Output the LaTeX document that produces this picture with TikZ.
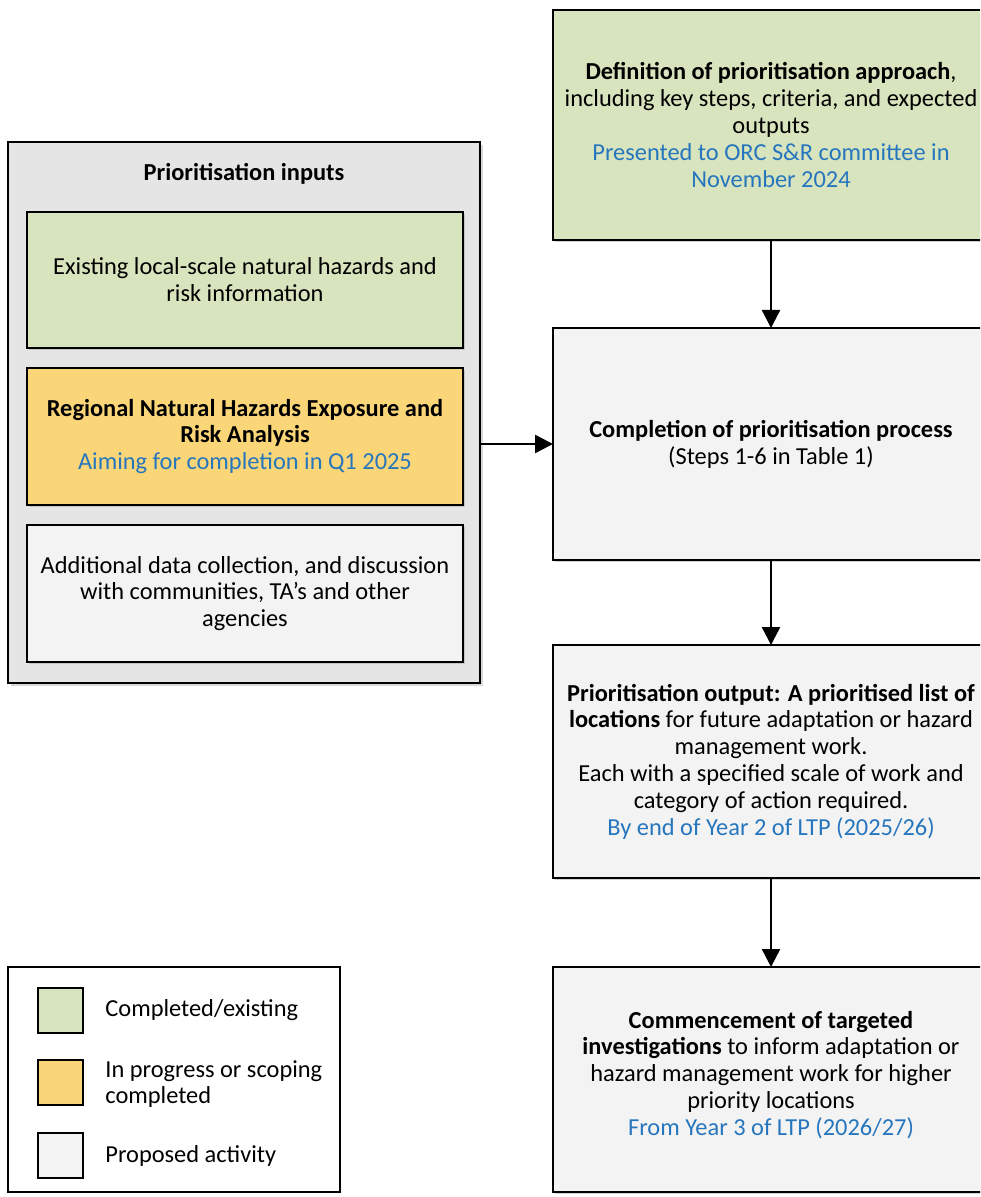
\documentclass[tikz,border=0pt]{standalone}
\usepackage{fontspec}
\setmainfont{Carlito}
\usepackage{tikz}
\usetikzlibrary{arrows.meta}
\usetikzlibrary{shadows}
\definecolor{donegreen}{RGB}{216,228,189}
\definecolor{progyellow}{RGB}{250,214,120}
\definecolor{proposedgrey}{RGB}{243,243,243}
\definecolor{inputsgrey}{RGB}{229,229,229}
\definecolor{dateblue}{RGB}{38,118,190}
\newcommand{\datetext}[1]{{\color{dateblue}#1}}
\newcommand{\boxfont}{\fontsize{12.2}{13.4}\selectfont}
\tikzstyle{stage}=[draw, line width=1pt, align=center, inner sep=0, outer sep=0,
                   minimum width=218pt, font=\boxfont,
                   drop shadow={shadow xshift=1.2pt, shadow yshift=-1.2pt, fill=black!35, opacity=0.5}]
\tikzstyle{done}=[stage, fill=donegreen]
\tikzstyle{progress}=[stage, fill=progyellow]
\tikzstyle{proposed}=[stage, fill=proposedgrey]
\tikzstyle{swatch}=[draw, line width=1pt, minimum size=22.5pt, inner sep=0]
\tikzstyle{keytext}=[anchor=west, align=left, inner sep=0, font=\boxfont]
\tikzstyle{flow}=[line width=1.2pt, -{Triangle[length=9pt, width=9pt]}]

\begin{document}
\begin{tikzpicture}[x=0.5pt, y=-0.5pt]
    \useasboundingbox (0, 0) rectangle (980, 1197);
    \clip (0, 0) rectangle (980, 1197);
    \fill[white] (0, 0) rectangle (980, 1197);

    % inputs panel
    \node[draw, line width=1.2pt, fill=inputsgrey, minimum width=236pt, minimum height=270.5pt,
          drop shadow={shadow xshift=1.5pt, shadow yshift=-1.5pt, fill=black!30, opacity=0.5}]
                                                (inputs) at (244, 412.5) {};
    \node[font=\boxfont\bfseries]               (inputstitle) at (244, 174) {Prioritisation inputs};
    \node[done, minimum height=68pt]            (existing) at (245, 280)
        {Existing local-scale natural hazards and\\ risk information};
    \node[progress, minimum height=68.5pt]      (regional) at (245, 436.5)
        {\textbf{Regional Natural Hazards Exposure and}\\ \textbf{Risk Analysis}\\
         \datetext{Aiming for completion in Q1 2025}};
    \node[proposed, minimum height=68.5pt]      (additional) at (245, 593.5)
        {Additional data collection, and discussion\\ with communities, TA's and other\\ agencies};

    % main sequence
    \node[done, minimum height=115pt]           (defn) at (771, 125)
        {\textbf{Definition of prioritisation approach},\\ including key steps, criteria, and expected\\ outputs\\
         \datetext{Presented to ORC S\&R committee in}\\ \datetext{November 2024}};
    \node[proposed, minimum height=116pt]       (process) at (771, 444)
        {\textbf{Completion of prioritisation process}\\ (Steps 1-6 in Table 1)};
    \node[proposed, minimum height=116.5pt]     (output) at (771, 761.5)
        {\textbf{Prioritisation output: A prioritised list of}\\ \textbf{locations} for future adaptation or hazard\\
         management work.\\ Each with a specified scale of work and\\ category of action required.\\
         \datetext{By end of Year 2 of LTP (2025/26)}};
    \node[proposed, minimum height=112.5pt]     (investig) at (771, 1079.5)
        {\textbf{Commencement of targeted}\\ \textbf{investigations} to inform adaptation or\\
         hazard management work for higher\\ priority locations\\
         \datetext{From Year 3 of LTP (2026/27)}\\[-7pt]};

    \draw[flow] (defn) -- (process);
    \draw[flow] (process) -- (output);
    \draw[flow] (output) -- (investig);
    \draw[flow] (inputs.east |- process.west) -- (process.west);

    % key
    \node[draw, line width=1pt, fill=white, minimum width=166pt, minimum height=112.5pt] (legend) at (174, 1079.5) {};
    \node[swatch, fill=donegreen]               (keydone) at (60.5, 1010) {};
    \node[swatch, fill=progyellow]              (keyprog) at (60.5, 1082.5) {};
    \node[swatch, fill=proposedgrey]            (keyprop) at (60.5, 1155.5) {};
    \node[keytext] (keydonetext) at (105, 1010) {Completed/existing};
    \node[keytext] (keyprogtext) at (105, 1084) {In progress or scoping\\ completed};
    \node[keytext] (keyproptext) at (105, 1155.5) {Proposed activity};
\end{tikzpicture}
\end{document}
